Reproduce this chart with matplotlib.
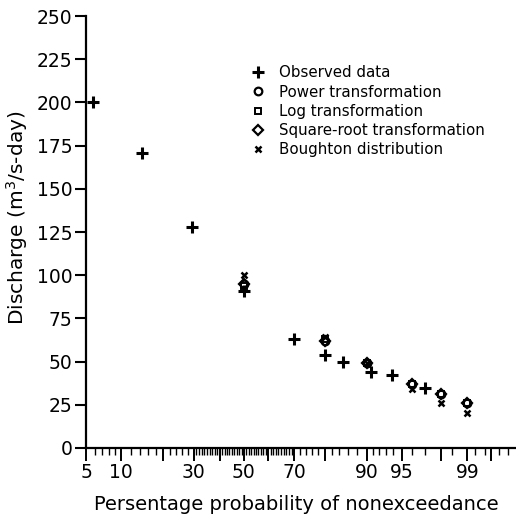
#!/usr/bin/env python3
# -*- coding: utf-8 -*-
"""
Flow duration: observed discharge vs fitted distributions on normal probability paper.
"""
from statistics import NormalDist

import numpy as np
import matplotlib
matplotlib.use('Agg')
import matplotlib.pyplot as plt
from matplotlib.ticker import FixedLocator, NullFormatter

plt.rcParams['font.family'] = ['DejaVu Sans']

# observed data
obs_p = [5.8, 14.5, 29.6, 50, 70, 80, 85, 90.8, 93.8, 97.0]
obs_q = [200, 171, 128, 91, 63, 54, 50, 44, 42, 35]

# fitted values
fit_p = [50, 80, 90, 96, 98, 99]
power_q = [95, 62, 49, 37, 31, 26]
log_q = [94, 63, 49, 37, 31, 26]
sqrt_q = [95, 62, 49, 37, 31, 26]
boughton_q = [100, 64, 49, 34, 26, 20]

# probability axis ticks
major_ticks = [5, 10, 20, 30, 40, 50, 60, 70, 80, 90, 95, 98, 99, 99.5]
tick_labels = {5: '5', 10: '10', 30: '30', 50: '50', 70: '70', 90: '90', 95: '95', 99: '99'}
minor_ticks = ([6, 7, 8, 9] + list(range(12, 30, 2)) + list(range(31, 70)) +
               list(range(72, 90, 2)) + [91, 92, 93, 94, 96, 97, 98.5, 99.2, 99.4, 99.6, 99.7])

_nd = NormalDist()


def p2z(p):
    p = np.clip(np.asarray(p, dtype=float), 0.01, 99.99)
    return np.vectorize(lambda v: _nd.inv_cdf(v / 100.0))(p)


def z2p(z):
    z = np.asarray(z, dtype=float)
    return np.vectorize(lambda v: _nd.cdf(v) * 100.0)(z)


def fmt_prob(v, pos):
    key = int(round(v)) if abs(v - round(v)) < 1e-6 else v
    return tick_labels.get(key, '')


fig = plt.figure(figsize=(5.16, 5.22), dpi=100)
ax = fig.add_axes([0.1667, 0.1418, 0.8333, 0.8275])

ax.set_xscale('function', functions=(p2z, z2p))
ax.set_xlim(5, 99.77)
ax.set_ylim(0, 250)

ax.plot(obs_p, obs_q, linestyle='none', marker='+', ms=9, mew=2.2, color='k',
        label='Observed data')
ax.plot(fit_p, power_q, linestyle='none', marker='o', ms=5.5, mew=1.6, mfc='none',
        color='k', label='Power transformation')
ax.plot(fit_p, log_q, linestyle='none', marker='s', ms=5, mew=1.4, mfc='none',
        color='k', label='Log transformation')
ax.plot(fit_p, sqrt_q, linestyle='none', marker='D', ms=5, mew=1.6, mfc='none',
        color='k', label='Square-root transformation')
ax.plot(fit_p, boughton_q, linestyle='none', marker='x', ms=4.5, mew=1.8,
        color='k', label='Boughton distribution')

# axes style
for side in ['top', 'right']:
    ax.spines[side].set_visible(False)
for side in ['left', 'bottom']:
    ax.spines[side].set_linewidth(1.6)

ax.set_yticks(np.arange(0, 251, 25))
ax.tick_params(axis='y', direction='out', length=8, width=1.5, labelsize=13.5, pad=2)

ax.xaxis.set_major_locator(FixedLocator(major_ticks))
ax.xaxis.set_minor_locator(FixedLocator(minor_ticks))
ax.xaxis.set_major_formatter(plt.FuncFormatter(fmt_prob))
ax.xaxis.set_minor_formatter(NullFormatter())
ax.tick_params(axis='x', which='major', direction='out', length=9, width=1.4,
               labelsize=13.5, pad=2)
ax.tick_params(axis='x', which='minor', direction='out', length=5, width=1.0)

ax.set_xlabel('Persentage probability of nonexceedance', fontsize=14)
ax.xaxis.set_label_coords(0.49, -0.11)
ax.set_ylabel('Discharge (m$^3$/s-day)', fontsize=14.5)
ax.yaxis.set_label_coords(-0.13, 0.532)

ax.legend(loc='upper left', bbox_to_anchor=(0.366, 0.903), frameon=False, fontsize=10.8,
          handlelength=1.0, handletextpad=0.85, labelspacing=0.28, borderpad=0)

fig.savefig('out.png', dpi=100)
plt.close()
